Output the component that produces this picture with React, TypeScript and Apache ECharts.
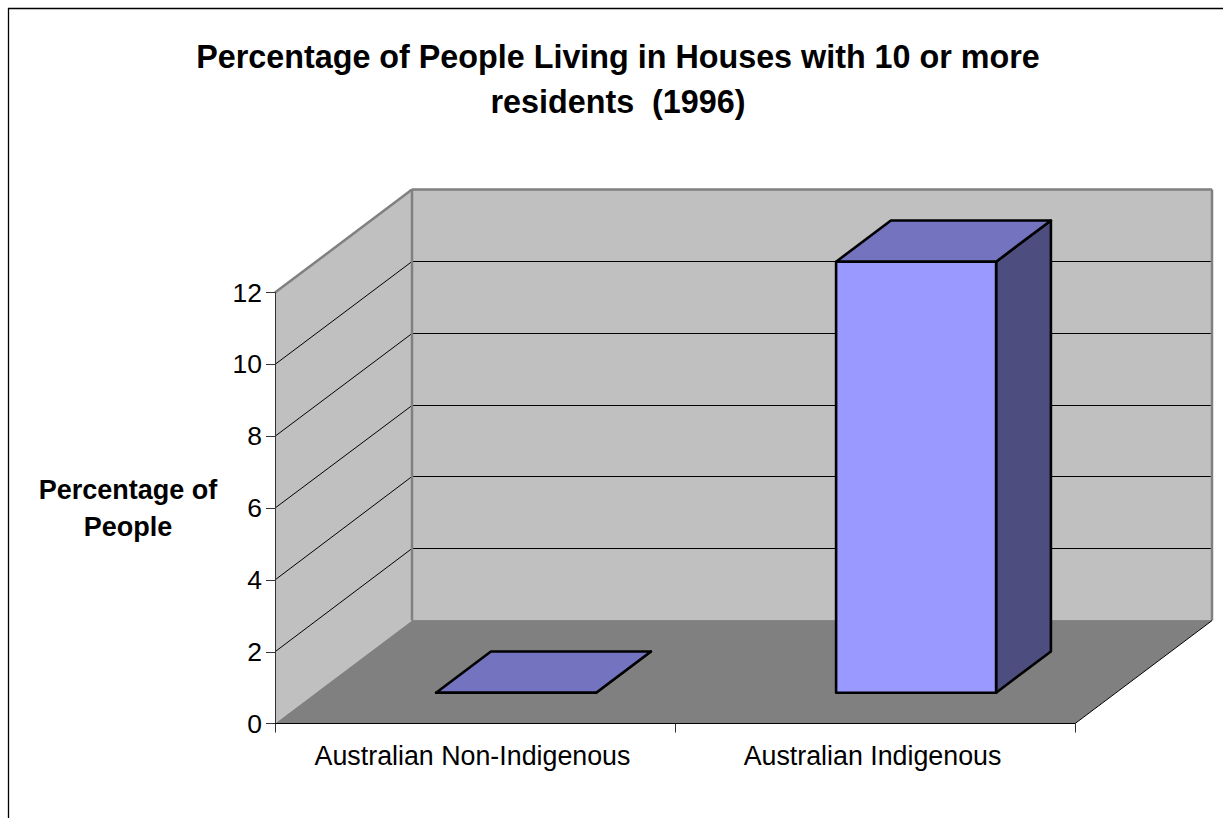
import React, { useEffect, useRef } from "react";
import * as echarts from "echarts";

const categories = ["Australian Non-Indigenous", "Australian Indigenous"];
const percentages = [0, 12];
const gridValues = [2, 4, 6, 8, 10];
const yMin = 0;
const yMax = 12;
const titleLines = ["Percentage of People Living in Houses with 10 or more", "residents  (1996)"];
const yAxisTitle = ["Percentage of", "People"];

// Oblique projection: how far the back of the plot box sits from its front.
const DEPTH_X = 137;
const DEPTH_Y = -103;
// Bars occupy the middle of the box depth and 40% of each category band.
const BAR_DEPTH_START = 0.3;
const BAR_DEPTH_END = 0.7;
const BAR_WIDTH_RATIO = 0.4;

const WALL = "#C0C0C0";
const FLOOR = "#808080";
const EDGE = "#808080";
const BAR_FRONT = "#9999FF";
const BAR_TOP = "#7373BF";
const BAR_SIDE = "#4D4D80";

const shift = (p: number[], depth: number) => [p[0] + DEPTH_X * depth, p[1] + DEPTH_Y * depth];

const poly = (points: number[][], style: object) => ({
  type: "polygon",
  shape: { points },
  style,
});

const seg = (a: number[], b: number[], stroke: string, lineWidth: number) => ({
  type: "line",
  shape: { x1: a[0], y1: a[1], x2: b[0], y2: b[1] },
  style: { stroke, lineWidth, fill: "none" },
});

// Back wall, side wall, floor and the gridlines that wrap around the walls.
const renderBox = (_params: any, api: any) => {
  const band = api.size([1, 0])[0];
  const l0 = [api.coord([0, yMin])[0] - band / 2, api.coord([0, yMin])[1]];
  const l1 = [l0[0], api.coord([0, yMax])[1]];
  const r0 = [l0[0] + band * categories.length, l0[1]];
  const r1 = [r0[0], l1[1]];

  const children: any[] = [
    poly([l0, l1, shift(l1, 1), shift(l0, 1)], { fill: WALL }),
    poly([shift(l0, 1), shift(l1, 1), shift(r1, 1), shift(r0, 1)], { fill: WALL }),
    poly([l0, shift(l0, 1), shift(r0, 1), r0], { fill: FLOOR }),
  ];
  gridValues.forEach((v) => {
    const p = [l0[0], api.coord([0, v])[1]];
    const q = shift(p, 1);
    // Snap the back-wall gridline to a pixel row so it stays a crisp hairline.
    const snappedY = Math.floor(q[1]) + 0.5;
    children.push(seg(p, [q[0], snappedY], "#000000", 1));
    children.push(seg([q[0], snappedY], [q[0] + band * categories.length, snappedY], "#000000", 1));
  });
  children.push(
    seg(shift(l0, 1), shift(r0, 1), EDGE, 1),
    seg(shift(l0, 1), shift(l1, 1), EDGE, 2.5),
    seg(shift(l1, 1), shift(r1, 1), EDGE, 2.5),
    seg(shift(r0, 1), shift(r1, 1), EDGE, 2.5),
    seg(l1, shift(l1, 1), EDGE, 2.5),
    seg(r0, shift(r0, 1), "#000000", 1)
  );
  return { type: "group", children };
};

// One oblique box per category, standing inside the floor's depth.
const renderBar = (_params: any, api: any) => {
  const idx = api.value(0);
  const val = api.value(1);
  const band = api.size([1, 0])[0];
  const halfW = (band * BAR_WIDTH_RATIO) / 2;
  const base = api.coord([idx, yMin]);
  const top = api.coord([idx, val]);
  const a = shift([base[0] - halfW, base[1]], BAR_DEPTH_START);
  const b = shift([base[0] + halfW, base[1]], BAR_DEPTH_START);
  const c = shift([base[0] + halfW, top[1]], BAR_DEPTH_START);
  const d = shift([base[0] - halfW, top[1]], BAR_DEPTH_START);
  const depth = BAR_DEPTH_END - BAR_DEPTH_START;
  const outline = { stroke: "#000000", lineWidth: 2.6, lineJoin: "round" };
  return {
    type: "group",
    children: [
      poly([b, c, shift(c, depth), shift(b, depth)], { fill: BAR_SIDE, ...outline }),
      poly([d, c, shift(c, depth), shift(d, depth)], { fill: BAR_TOP, ...outline }),
      poly([a, b, c, d], { fill: BAR_FRONT, ...outline }),
    ],
  };
};

export default function App() {
  const ref = useRef<HTMLDivElement>(null);

  useEffect(() => {
    const chart = echarts.init(ref.current!, null, { renderer: "svg" });
    chart.setOption({
      animation: false,
      backgroundColor: "#FFFFFF",
      textStyle: { fontFamily: "Liberation Sans" },
      title: {
        text: titleLines.join("\n"),
        left: 613,
        top: 29,
        textAlign: "center",
        textStyle: {
          fontFamily: "Liberation Sans",
          fontSize: 32.3,
          fontWeight: "bold",
          color: "#000000",
          lineHeight: 45,
          align: "center",
        },
      },
      grid: { left: 275, top: 292.6, width: 800, height: 431 },
      xAxis: {
        type: "category",
        data: categories,
        z: 6,
        axisLine: { lineStyle: { color: "#000000", width: 1 } },
        axisTick: { show: true, length: 9, alignWithLabel: false, lineStyle: { color: "#333333" } },
        axisLabel: { color: "#000000", fontSize: 26.8, margin: 19, interval: 0, padding: [0, 5, 0, 0] },
        splitLine: { show: false },
      },
      yAxis: {
        type: "value",
        min: yMin,
        max: yMax,
        interval: 2,
        z: 6,
        name: yAxisTitle.join("\n"),
        nameLocation: "middle",
        nameRotate: 0,
        nameGap: 147,
        nameTextStyle: {
          fontFamily: "Liberation Sans",
          fontSize: 27,
          fontWeight: "bold",
          color: "#000000",
          lineHeight: 37,
          align: "center",
        },
        axisLine: { show: true, lineStyle: { color: "#333333", width: 1 } },
        axisTick: { show: true, length: 9, lineStyle: { color: "#333333" } },
        axisLabel: { color: "#000000", fontSize: 26.5, margin: 13 },
        splitLine: { show: false },
      },
      series: [
        {
          type: "custom",
          name: "Plot box",
          coordinateSystem: "cartesian2d",
          renderItem: renderBox,
          data: [[0, yMin]],
          silent: true,
          z: 1,
          clip: false,
        },
        {
          type: "custom",
          name: "Percentage of People",
          coordinateSystem: "cartesian2d",
          renderItem: renderBar,
          data: percentages.map((v, i) => [i, v]),
          encode: { x: 0, y: 1 },
          z: 2,
          clip: false,
        },
      ],
      graphic: [
        {
          type: "polyline",
          silent: true,
          shape: { points: [[8.5, 818], [8.5, 8.5], [1223, 8.5]] },
          style: { stroke: "#000000", lineWidth: 1.3, fill: "none" },
        },
      ],
    });
    return () => chart.dispose();
  }, []);

  return (
    <div
      ref={ref}
      style={{ position: "fixed", left: 0, top: 0, width: 1223, height: 818, overflow: "hidden" }}
    />
  );
}
